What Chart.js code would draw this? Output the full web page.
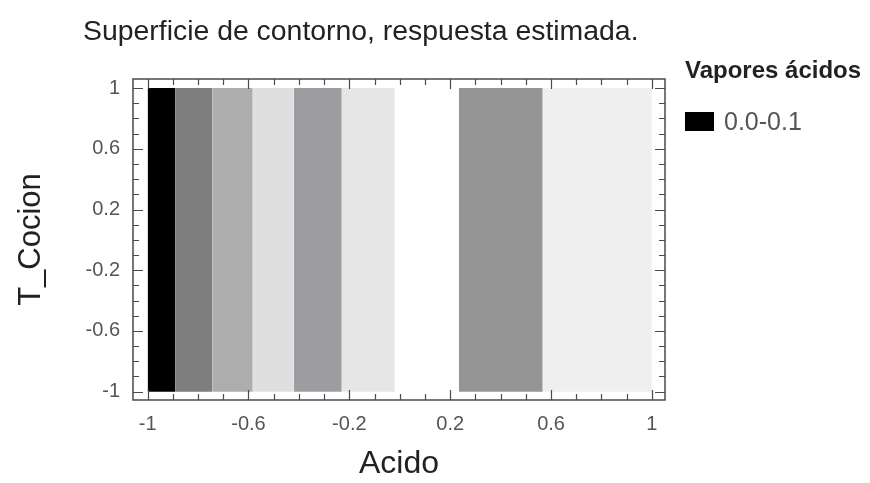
<!DOCTYPE html>
<html lang="es">
<head>
<meta charset="UTF-8">
<title>Superficie de contorno, respuesta estimada</title>
<script src="https://cdn.jsdelivr.net/npm/chart.js"></script>
<style>
    body { margin: 0; background: #fff; font-family: 'Liberation Sans', Arial, sans-serif; }
    #wrap { position: relative; width: 870px; height: 483px; }
    #titulo { position: absolute; left: 83px; top: 13px; font-size: 28.4px; color: #222; line-height: 34px; }
    #leyenda { position: absolute; left: 685px; top: 56px; }
    #leyenda .tit { font-weight: bold; font-size: 24px; color: #222; line-height: 28px; }
    #leyenda .item { display: flex; align-items: center; margin-top: 23px; font-size: 25px; color: #555; line-height: 28px; }
    #leyenda .caja { display: inline-block; width: 29px; height: 19px; margin-right: 10px; }
</style>
</head>
<body>
<div id="wrap">
    <canvas id="contorno" width="870" height="483"></canvas>
    <div id="titulo">Superficie de contorno, respuesta estimada.</div>
    <div id="leyenda"></div>
</div>

<script>
    // bandas verticales de la superficie (limites en Acido) y su tono
    const bordesAcido = [-1, -0.889, -0.742, -0.583, -0.421, -0.230, -0.020, 0.234, 0.567, 1];
    const tonos = ['#000000', '#7e7e7e', '#adadad', '#dfdfdf', '#9d9da1', '#e6e6e6', '#ffffff', '#959595', '#efefef'];
    const rangoCocion = [-1, 1];

    const ticksAcido = [-1, -0.6, -0.2, 0.2, 0.6, 1];
    const ticksCocion = [-1, -0.6, -0.2, 0.2, 0.6, 1];
    const menores = [-0.9, -0.8, -0.7, -0.5, -0.4, -0.3, -0.1, 0, 0.1, 0.3, 0.4, 0.5, 0.7, 0.8, 0.9];

    const leyendaTitulo = 'Vapores ácidos';
    const leyendaEtiquetas = ['0.0-0.1'];
    const leyendaColores = ['#000000'];

    // leyenda
    const ley = document.getElementById('leyenda');
    ley.innerHTML = `<div class="tit">${leyendaTitulo}</div>` + leyendaEtiquetas.map((t, i) =>
        `<div class="item"><span class="caja" style="background:${leyendaColores[i]}"></span>${t}</div>`).join('');

    const datasets = tonos.map((c, i) => ({
        type: 'line',
        data: [{ x: bordesAcido[i], y: rangoCocion[1] }, { x: bordesAcido[i + 1], y: rangoCocion[1] }],
        fill: { value: rangoCocion[0] },
        backgroundColor: c,
        borderColor: 'rgba(0,0,0,0)',
        borderWidth: 0,
        pointRadius: 0
    }));

    // marco con marcas hacia dentro
    const marco = {
        id: 'marco',
        afterDraw(chart) {
            const { ctx, chartArea: a, scales } = chart;
            const x = scales.x, y = scales.y;
            ctx.save();
            ctx.strokeStyle = '#4a4a4a';
            ctx.lineWidth = 1.5;
            ctx.strokeRect(a.left, a.top, a.right - a.left, a.bottom - a.top);
            ctx.lineWidth = 1.2;
            const marca = (vals, len) => {
                vals.forEach(v => {
                    const px = Math.round(x.getPixelForValue(v)) + 0.5;
                    const py = Math.round(y.getPixelForValue(v)) + 0.5;
                    ctx.beginPath();
                    ctx.moveTo(px, a.bottom); ctx.lineTo(px, a.bottom - len);
                    ctx.moveTo(px, a.top); ctx.lineTo(px, a.top + len);
                    ctx.moveTo(a.left, py); ctx.lineTo(a.left + len, py);
                    ctx.moveTo(a.right, py); ctx.lineTo(a.right - len, py);
                    ctx.stroke();
                });
            };
            marca(ticksAcido, 10);
            marca(menores, 6);
            ctx.restore();
        }
    };

    new Chart(document.getElementById('contorno'), {
        type: 'line',
        data: { datasets },
        options: {
            responsive: false,
            animation: false,
            layout: { padding: { top: 79, right: 205, left: 0, bottom: 0 } },
            plugins: { legend: { display: false }, tooltip: { enabled: false }, title: { display: false } },
            scales: {
                x: {
                    type: 'linear',
                    min: -1.058, max: 1.052,
                    afterBuildTicks: s => { s.ticks = ticksAcido.map(v => ({ value: v })); },
                    afterFit: s => { s.height = 83; },
                    grid: { display: false },
                    border: { display: false },
                    ticks: { padding: 4, color: '#555', font: { family: 'Liberation Sans', size: 20 }, callback: v => String(v), maxRotation: 0 },
                    title: { display: true, text: 'Acido', color: '#222', font: { family: 'Liberation Sans', size: 32 }, padding: { top: 2, bottom: 0 } }
                },
                y: {
                    type: 'linear',
                    min: -1.055, max: 1.06,
                    afterBuildTicks: s => { s.ticks = ticksCocion.map(v => ({ value: v })); },
                    afterFit: s => { s.width = 133; },
                    grid: { display: false },
                    border: { display: false },
                    ticks: { padding: 5, color: '#555', font: { family: 'Liberation Sans', size: 20 }, callback: v => String(v) },
                    title: { display: true, text: 'T_Cocion', color: '#222', font: { family: 'Liberation Sans', size: 31 }, padding: { top: 13, bottom: 0 } }
                }
            }
        },
        plugins: [marco]
    });
</script>
</body>
</html>
